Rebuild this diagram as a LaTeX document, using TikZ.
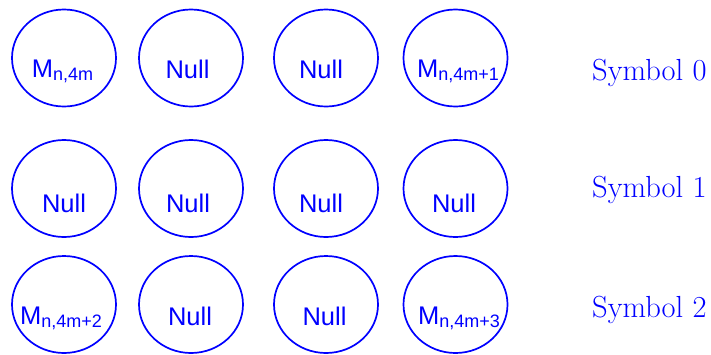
\documentclass[tikz,border=0pt]{standalone}
\usepackage{fontspec}
\newfontfamily\arial{Liberation Sans}
\usetikzlibrary{shapes.geometric}
\newcommand{\Msub}[1]{M\raisebox{-3pt}{\fontsize{18}{18}\selectfont #1}}
\tikzset{
  cell/.style={ellipse, draw=blue, line width=1.7pt, minimum width=104pt, minimum height=97pt, inner sep=0pt},
  txt/.style={anchor=base, inner sep=0pt, text=blue, font=\arial\fontsize{25.5}{25.5}\selectfont},
  sym/.style={anchor=base west, inner sep=0pt, text=blue, font=\fontsize{30.5}{30.5}\selectfont}
}
\begin{document}
\begin{tikzpicture}[x=1pt,y=-1pt]
\useasboundingbox (0,0) rectangle (711,354);
% row 0
\node[cell] (e00) at (64,58) {};
\node[cell] (e01) at (191,58) {};
\node[cell] (e02) at (326,58) {};
\node[cell] (e03) at (455.5,58) {};
\node[txt] (t00) at (62.5,77) {\Msub{n,4m}};
\node[txt] (t01) at (187.5,78) {Null};
\node[txt] (t02) at (321,78) {Null};
\node[txt] (t03) at (458,77) {\Msub{n,4m+1}};
% row 1
\node[cell] (e10) at (64,188.5) {};
\node[cell] (e11) at (191,188.5) {};
\node[cell] (e12) at (326,188.5) {};
\node[cell] (e13) at (455.5,188.5) {};
\node[txt] (t10) at (64,212) {Null};
\node[txt] (t11) at (188,212) {Null};
\node[txt] (t12) at (321,212) {Null};
\node[txt] (t13) at (454,212) {Null};
% row 2
\node[cell] (e20) at (64,304.5) {};
\node[cell] (e21) at (191,304.5) {};
\node[cell] (e22) at (326,304.5) {};
\node[cell] (e23) at (455.5,304.5) {};
\node[txt] (t20) at (61,324) {\Msub{n,4m+2}};
\node[txt] (t21) at (190,325) {Null};
\node[txt] (t22) at (324.5,325) {Null};
\node[txt] (t23) at (459,324) {\Msub{n,4m+3}};
% symbol labels
\node[sym] (s0) at (592,80) {Symbol 0};
\node[sym] (s1) at (592,197) {Symbol 1};
\node[sym] (s2) at (592,317) {Symbol 2};
\end{tikzpicture}
\end{document}
